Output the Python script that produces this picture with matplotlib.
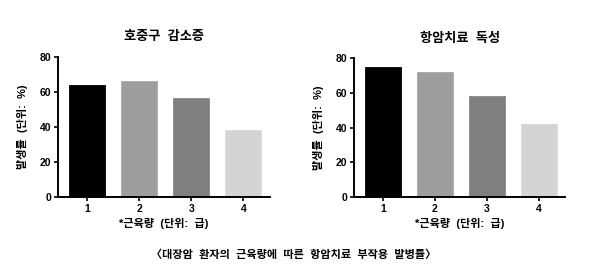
import matplotlib
matplotlib.use('Agg')
import matplotlib.pyplot as plt

plt.rcParams['font.family'] = ['Liberation Sans', 'Noto Sans CJK KR', 'DejaVu Sans']
plt.rcParams['font.weight'] = 'bold'

# Data
groups = [1, 2, 3, 4]
neutropenia = [64, 66.2, 56.5, 38.3]
toxicity = [74.8, 72.2, 58.4, 42]
titles = ['호중구  감소증', '항암치료  독성']
ylabel = '발생률  (단위:  %)'
xlabel = '*근육량  (단위:  급)'
caption = '〈대장암  환자의  근육량에  따른  항암치료  부작용  발병률〉'
bar_colors = ['#000000', '#9e9e9e', '#7f7f7f', '#d4d4d4']
edge_colors = ['#000000', '#a8a8a8', '#888888', '#dadada']

fig = plt.figure(figsize=(6, 2.68), dpi=100)
ax_l = fig.add_axes([0.0967, 0.265, 0.353, 0.522])
ax_r = fig.add_axes([0.590, 0.265, 0.352, 0.517])

for ax, vals, title in [(ax_l, neutropenia, titles[0]), (ax_r, toxicity, titles[1])]:
    ax.bar(groups, vals, width=0.7, color=bar_colors, edgecolor=edge_colors, linewidth=0.6)
    ax.set_xlim(0.44, 4.51)
    ax.set_ylim(0, 80)
    ax.set_yticks([0, 20, 40, 60, 80])
    ax.set_xticks(groups)
    ax.spines['top'].set_visible(False)
    ax.spines['right'].set_visible(False)
    ax.spines['left'].set_linewidth(1.4)
    ax.spines['bottom'].set_linewidth(1.4)
    ax.tick_params(axis='both', width=1.2, length=3, labelsize=7.5, pad=2)
    for lab in ax.get_xticklabels() + ax.get_yticklabels():
        lab.set_fontweight('bold')
    ax.set_title(title, fontsize=9.5, fontweight='bold', pad=12)
    ax.set_ylabel(ylabel, fontsize=8, fontweight='bold', labelpad=8)
    ax.set_xlabel(xlabel, fontsize=8, fontweight='bold', labelpad=3)

fig.text(0.49, 0.048, caption, ha='center', va='center', fontsize=8, fontweight='bold')

fig.savefig('out.png', dpi=100)
